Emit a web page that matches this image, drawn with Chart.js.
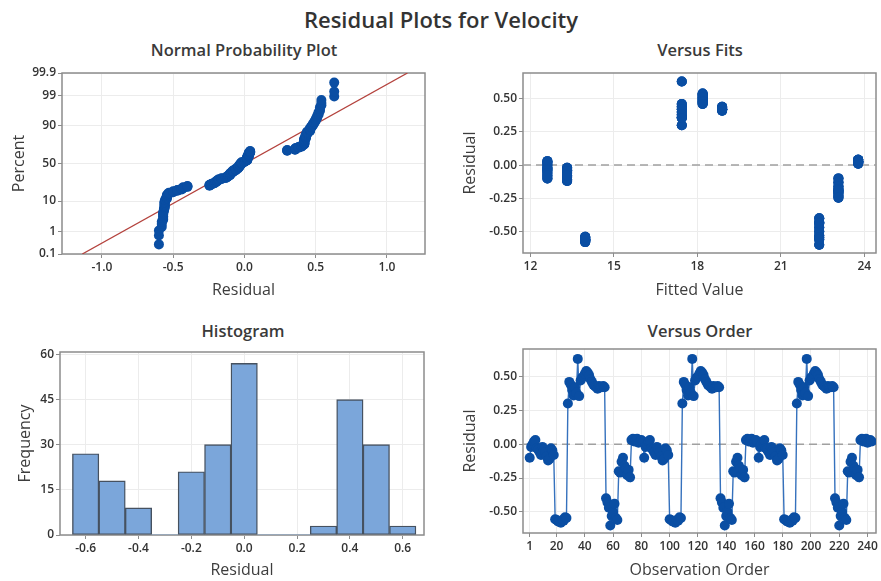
<!DOCTYPE html>
<html>
<head>
<meta charset="utf-8">
<title>Residual Plots for Velocity</title>
<script src="https://cdn.jsdelivr.net/npm/chart.js@4.4.1/dist/chart.umd.min.js"></script>
<style>
  html, body { margin: 0; padding: 0; background: #fff; }
  #page { position: relative; width: 881px; height: 581px; overflow: hidden; background: #fff;
          font-family: 'Open Sans', 'Noto Sans', sans-serif; color: #333; }
  canvas { position: absolute; }
  .label { position: absolute; transform: translate(-50%, -50%); white-space: nowrap; line-height: 1; }
  #mainTitle { font-size: 22px; font-weight: 600; color: #333; }
  .panelTitle { font-size: 16.5px; font-weight: 600; color: #3a3a3a; }
</style>
</head>
<body>
<div id="page">
  <div id="mainTitle" class="label" style="left:441px; top:19px;">Residual Plots for Velocity</div>
  <div class="label panelTitle" style="left:244px; top:50px;">Normal Probability Plot</div>
  <div class="label panelTitle" style="left:700px; top:50px;">Versus Fits</div>
  <div class="label panelTitle" style="left:243px; top:331px;">Histogram</div>
  <div class="label panelTitle" style="left:700px; top:331px;">Versus Order</div>
  <canvas id="npp"   width="440" height="280" style="left:0;   top:30px;"></canvas>
  <canvas id="fits"  width="441" height="280" style="left:440px; top:30px;"></canvas>
  <canvas id="hist"  width="440" height="271" style="left:0;   top:310px;"></canvas>
  <canvas id="order" width="441" height="271" style="left:440px; top:310px;"></canvas>
</div>
<script>
// ---- Data -------------------------------------------------------------
// Fitted value of each of the nine design points (observations come in blocks of 9 per point)
const fitLevels = [12.61, 13.32, 13.97, 17.44, 18.19, 18.89, 22.38, 23.07, 23.78];
const obsPerLevel = 9;

// Residuals in observation order, one array per run of 81 observations
const run1Residuals = [
  -0.10, -0.02, 0.00, 0.02, 0.03, -0.03, -0.04, -0.06, -0.08,
  -0.02, -0.04, -0.06, -0.09, -0.12, -0.11, -0.03, -0.045, -0.08,
  -0.555, -0.56, -0.57, -0.57, -0.58, -0.56, -0.565, -0.54, -0.545,
  0.30, 0.46, 0.44, 0.40, 0.36, 0.42, 0.38, 0.63, 0.355,
  0.47, 0.49, 0.50, 0.52, 0.54, 0.53, 0.51, 0.48, 0.46,
  0.44, 0.43, 0.42, 0.41, 0.43, 0.42, 0.42, 0.43, 0.42,
  -0.40, -0.43, -0.47, -0.60, -0.53, -0.50, -0.44, -0.545, -0.56,
  -0.20, -0.21, -0.13, -0.10, -0.16, -0.18, -0.23, -0.19, -0.245,
  0.03, 0.04, 0.02, 0.03, 0.04, 0.01, 0.02, 0.03, 0.02
];
const run2Residuals = [
  -0.10, -0.02, 0.00, 0.02, 0.03, -0.03, -0.04, -0.06, -0.08,
  -0.02, -0.04, -0.06, -0.09, -0.12, -0.11, -0.03, -0.045, -0.08,
  -0.555, -0.56, -0.57, -0.57, -0.58, -0.56, -0.565, -0.54, -0.545,
  0.30, 0.46, 0.44, 0.40, 0.36, 0.42, 0.38, 0.63, 0.355,
  0.47, 0.49, 0.50, 0.52, 0.54, 0.53, 0.51, 0.48, 0.46,
  0.44, 0.43, 0.42, 0.41, 0.43, 0.42, 0.42, 0.43, 0.42,
  -0.40, -0.43, -0.47, -0.60, -0.53, -0.50, -0.44, -0.545, -0.56,
  -0.20, -0.21, -0.13, -0.10, -0.16, -0.18, -0.23, -0.19, -0.245,
  0.03, 0.04, 0.02, 0.03, 0.04, 0.01, 0.02, 0.03, 0.02
];
const run3Residuals = [
  -0.10, -0.02, 0.00, 0.02, 0.03, -0.03, -0.04, -0.06, -0.08,
  -0.02, -0.04, -0.06, -0.09, -0.12, -0.11, -0.03, -0.045, -0.08,
  -0.555, -0.56, -0.57, -0.57, -0.58, -0.56, -0.565, -0.54, -0.545,
  0.30, 0.46, 0.44, 0.40, 0.36, 0.42, 0.38, 0.63, 0.355,
  0.47, 0.49, 0.50, 0.52, 0.54, 0.53, 0.51, 0.48, 0.46,
  0.44, 0.43, 0.42, 0.41, 0.43, 0.42, 0.42, 0.43, 0.42,
  -0.40, -0.43, -0.47, -0.60, -0.53, -0.50, -0.44, -0.545, -0.56,
  -0.20, -0.21, -0.13, -0.10, -0.16, -0.18, -0.23, -0.19, -0.245,
  0.03, 0.04, 0.02, 0.03, 0.04, 0.01, 0.02, 0.03, 0.02
];

// Histogram: bin midpoints (width 0.1) and frequencies
const histBins   = [-0.6, -0.5, -0.4, -0.3, -0.2, -0.1, 0.0, 0.1, 0.2, 0.3, 0.4, 0.5, 0.6];
const histCounts = [27, 18, 9, 0, 21, 30, 57, 0, 0, 3, 45, 30, 3];

// Tick labels
const percentTicks   = [0.1, 1, 10, 50, 90, 99, 99.9];
const nppResidTicks  = [-1.0, -0.5, 0.0, 0.5, 1.0];
const fitTicks       = [12, 15, 18, 21, 24];
const residTicks     = [-0.5, -0.25, 0, 0.25, 0.5];
const histResidTicks = [-0.6, -0.4, -0.2, 0.0, 0.2, 0.4, 0.6];
const freqTicks      = [0, 15, 30, 45, 60];
const orderTicks     = [1, 20, 40, 60, 80, 100, 120, 140, 160, 180, 200, 220, 240];

// ---- Derived series -----------------------------------------------------
const residuals = run1Residuals.concat(run2Residuals, run3Residuals);
const runLength = run1Residuals.length;
const fittedValues = residuals.map((_, i) => fitLevels[Math.floor((i % runLength) / obsPerLevel)]);

// Inverse standard normal CDF (Acklam's rational approximation)
function probit(p) {
  const a = [-3.969683028665376e+01, 2.209460984245205e+02, -2.759285104469687e+02, 1.383577518672690e+02, -3.066479806614716e+01, 2.506628277459239e+00];
  const b = [-5.447609879822406e+01, 1.615858368580409e+02, -1.556989798598866e+02, 6.680131188771972e+01, -1.328068155288572e+01];
  const c = [-7.784894002430293e-03, -3.223964580411365e-01, -2.400758277161838e+00, -2.549732539343734e+00, 4.374664141464968e+00, 2.938163982698783e+00];
  const d = [7.784695709041462e-03, 3.224671290700398e-01, 2.445134137142996e+00, 3.754408661907416e+00];
  const pl = 0.02425, ph = 1 - pl;
  let q, r;
  if (p < pl) {
    q = Math.sqrt(-2 * Math.log(p));
    return (((((c[0]*q+c[1])*q+c[2])*q+c[3])*q+c[4])*q+c[5]) / ((((d[0]*q+d[1])*q+d[2])*q+d[3])*q+1);
  }
  if (p <= ph) {
    q = p - 0.5; r = q * q;
    return (((((a[0]*r+a[1])*r+a[2])*r+a[3])*r+a[4])*r+a[5])*q / (((((b[0]*r+b[1])*r+b[2])*r+b[3])*r+b[4])*r+1);
  }
  q = Math.sqrt(-2 * Math.log(1 - p));
  return -(((((c[0]*q+c[1])*q+c[2])*q+c[3])*q+c[4])*q+c[5]) / ((((d[0]*q+d[1])*q+d[2])*q+d[3])*q+1);
}
function normCdf(z) {
  const t = 1 / (1 + 0.2316419 * Math.abs(z));
  const dd = 0.3989423 * Math.exp(-z * z / 2);
  const pr = dd * t * (0.3193815 + t * (-0.3565638 + t * (1.781478 + t * (-1.821256 + t * 1.330274))));
  return z > 0 ? 1 - pr : pr;
}

// Normal probability axis: values are percents, spaced by their normal quantile
class ProbabilityScale extends Chart.Scale {
  determineDataLimits() {
    this.min = this.options.min;
    this.max = this.options.max;
  }
  buildTicks() { return []; }
  getLabelForValue(v) { return String(v); }
  configure() {
    super.configure();
    this._zMin = probit(this.min / 100);
    this._zMax = probit(this.max / 100);
  }
  getPixelForValue(v) {
    const z = probit(v / 100);
    return this.getPixelForDecimal((z - this._zMin) / (this._zMax - this._zMin));
  }
  getValueForPixel(px) {
    const z = this._zMin + this.getDecimalForPixel(px) * (this._zMax - this._zMin);
    return normCdf(z) * 100;
  }
}
ProbabilityScale.id = 'probability';
ProbabilityScale.defaults = {};
Chart.register(ProbabilityScale);

// Normal probability points: sorted residuals against median-rank percents
const sortedResiduals = residuals.slice().sort((p, q) => p - q);
const nObs = sortedResiduals.length;
const nppPoints = sortedResiduals.map((r, i) => ({ x: r, y: (i + 1 - 0.3) / (nObs + 0.4) * 100 }));
const meanResid = residuals.reduce((s, v) => s + v, 0) / nObs;
const sdResid = Math.sqrt(residuals.reduce((s, v) => s + (v - meanResid) ** 2, 0) / (nObs - 1));
const nppFitLine = [0.1, 99.9].map(p => ({ x: meanResid + sdResid * probit(p / 100), y: p }));

// ---- Styling ------------------------------------------------------------
Chart.defaults.font.family = "'Open Sans', 'Noto Sans', sans-serif";
Chart.defaults.color = '#333';

const POINT_BLUE = '#0a4ea3';
const LINE_BLUE = '#3571bd';
const FRAME = '#8c8c8c';
const GRID = '#ececec';
const MARK_R = 5;

const framePlugin = {
  id: 'frame',
  beforeDatasetsDraw(chart) {
    const { ctx, chartArea: a } = chart;
    ctx.save();
    ctx.strokeStyle = FRAME;
    ctx.lineWidth = 1.5;
    ctx.strokeRect(a.left, a.top, a.right - a.left, a.bottom - a.top);
    ctx.restore();
  }
};

function axis(o) {
  return {
    type: o.type || 'linear',
    position: o.position,
    min: o.min,
    max: o.max,
    offset: false,
    afterFit: s => { if (s.isHorizontal()) s.height = o.size; else s.width = o.size; },
    afterBuildTicks: s => { s.ticks = o.ticks.map(v => ({ value: v })); },
    grid: { color: GRID, lineWidth: 1, offset: false, drawTicks: true, tickLength: 4, tickColor: FRAME, tickWidth: 1 },
    border: { display: false },
    ticks: {
      callback: o.fmt, color: '#333', autoSkip: false, maxRotation: 0, minRotation: 0,
      padding: 2, font: { size: 12, weight: '600' }
    },
    title: {
      display: true, text: o.title, color: '#3d3d3d',
      font: { size: 16, weight: '500' }, padding: o.titlePad
    }
  };
}

const baseOptions = (padding) => ({
  responsive: false,
  animation: false,
  events: [],
  layout: { padding },
  plugins: { legend: { display: false }, tooltip: { enabled: false }, title: { display: false } }
});

// ---- Normal Probability Plot ---------------------------------------------
new Chart(document.getElementById('npp'), {
  type: 'scatter',
  data: {
    datasets: [
      { data: nppPoints, pointRadius: MARK_R, pointBackgroundColor: POINT_BLUE, pointBorderWidth: 0 },
      { data: nppFitLine, showLine: true, pointRadius: 0, borderColor: '#b4423d', borderWidth: 1.3 }
    ]
  },
  options: Object.assign(baseOptions({ top: 43, right: 15, bottom: 0, left: 0 }), {
    scales: {
      x: axis({ position: 'bottom', min: -1.28, max: 1.267, size: 56, ticks: nppResidTicks,
                fmt: v => v.toFixed(1), title: 'Residual', titlePad: { top: 0, bottom: 10.4 } }),
      y: axis({ type: 'probability', position: 'left', min: 0.1, max: 99.9, size: 62, ticks: percentTicks,
                fmt: v => String(v), title: 'Percent', titlePad: { top: 9.4, bottom: 0 } })
    }
  }),
  plugins: [framePlugin]
});

// ---- Versus Fits ------------------------------------------------------------
new Chart(document.getElementById('fits'), {
  type: 'scatter',
  data: {
    datasets: [
      { data: residuals.map((r, i) => ({ x: fittedValues[i], y: r })),
        pointRadius: MARK_R, pointBackgroundColor: POINT_BLUE, pointBorderWidth: 0 },
      { data: [{ x: 11.734, y: 0 }, { x: 24.42, y: 0 }], showLine: true, pointRadius: 0,
        borderColor: '#a0a0a0', borderWidth: 1.5, borderDash: [8, 5] }
    ]
  },
  options: Object.assign(baseOptions({ top: 43, right: 4, bottom: 0, left: 0 }), {
    scales: {
      x: axis({ position: 'bottom', min: 11.734, max: 24.42, size: 57, ticks: fitTicks,
                fmt: v => String(v), title: 'Fitted Value', titlePad: { top: 0, bottom: 10.4 } }),
      y: axis({ position: 'left', min: -0.662, max: 0.694, size: 83, ticks: residTicks,
                fmt: v => v.toFixed(2), title: 'Residual', titlePad: { top: 20.4, bottom: 0 } })
    }
  }),
  plugins: [framePlugin]
});

// ---- Histogram ---------------------------------------------------------------
new Chart(document.getElementById('hist'), {
  type: 'bar',
  data: {
    datasets: [{
      data: histBins.map((b, i) => ({ x: b, y: histCounts[i] })),
      backgroundColor: '#7ba6da',
      borderColor: '#46515f',
      borderWidth: ctx => (ctx.raw && ctx.raw.y > 0 ? 1.4 : 0),
      borderSkipped: false,
      barPercentage: 1,
      categoryPercentage: 1
    }]
  },
  options: Object.assign(baseOptions({ top: 42, right: 16, bottom: 0, left: 0 }), {
    scales: {
      x: axis({ position: 'bottom', min: -0.697, max: 0.6805, size: 46, ticks: histResidTicks,
                fmt: v => v.toFixed(1), title: 'Residual', titlePad: { top: 0, bottom: 1.4 } }),
      y: axis({ position: 'left', min: 0, max: 60.8, size: 60, ticks: freqTicks,
                fmt: v => String(v), title: 'Frequency', titlePad: { top: 15.4, bottom: 0 } })
    }
  }),
  plugins: [framePlugin]
});

// ---- Versus Order ----------------------------------------------------------
new Chart(document.getElementById('order'), {
  type: 'scatter',
  data: {
    datasets: [
      { data: residuals.map((r, i) => ({ x: i + 1, y: r })), showLine: true,
        borderColor: LINE_BLUE, borderWidth: 1.4,
        pointRadius: MARK_R, pointBackgroundColor: POINT_BLUE, pointBorderWidth: 0 },
      { data: [{ x: -3.75, y: 0 }, { x: 246, y: 0 }], showLine: true, pointRadius: 0,
        borderColor: '#a0a0a0', borderWidth: 1.5, borderDash: [8, 5] }
    ]
  },
  options: Object.assign(baseOptions({ top: 39, right: 4, bottom: 0, left: 0 }), {
    scales: {
      x: axis({ position: 'bottom', min: -3.75, max: 246, size: 48, ticks: orderTicks,
                fmt: v => String(v), title: 'Observation Order', titlePad: { top: 0, bottom: 1.4 } }),
      y: axis({ position: 'left', min: -0.656, max: 0.703, size: 83, ticks: residTicks,
                fmt: v => v.toFixed(2), title: 'Residual', titlePad: { top: 20.4, bottom: 0 } })
    }
  }),
  plugins: [framePlugin]
});
</script>
</body>
</html>
